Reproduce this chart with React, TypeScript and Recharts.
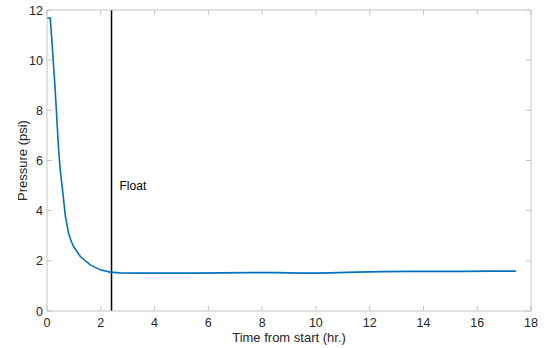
import React from 'react';
import { LineChart, Line, XAxis, YAxis, ReferenceLine, ReferenceDot, Label } from 'recharts';

const timeHr = [0, 0.12, 0.2, 0.3, 0.43, 0.49, 0.59, 0.68, 0.8, 0.9, 0.99, 1.24, 1.61, 1.98, 2.35, 2.7, 3.5, 4.5, 5.5, 6.5, 7.5, 8.5, 9.5, 10, 10.5, 11.5, 12.5, 13.5, 14.5, 15.5, 16.5, 17.44];
const pressurePsi = [11.68, 11.68, 10.5, 8.9, 6.45, 5.64, 4.71, 3.8, 3.1, 2.78, 2.57, 2.17, 1.84, 1.64, 1.55, 1.52, 1.51, 1.51, 1.51, 1.52, 1.53, 1.53, 1.51, 1.51, 1.52, 1.55, 1.57, 1.58, 1.58, 1.58, 1.59, 1.59];
const xTicks = [0, 2, 4, 6, 8, 10, 12, 14, 16, 18];
const yTicks = [0, 2, 4, 6, 8, 10, 12];
const floatTime = 2.4;
const floatLabelPressure = 5;
const floatLabel = 'Float';
const xTitle = 'Time from start (hr.)';
const yTitle = 'Pressure (psi)';

const data = timeHr.map((t, i) => ({ t, p: pressurePsi[i] }));

const AXIS = '#c4c4c4';
const TEXT = '#262626';
const FONT = '"Liberation Sans", Arial, Helvetica, sans-serif';

const BottomTick = (props: any) => {
  const { x, y, payload } = props;
  return (
    <g>
      <line x1={x} y1={y} x2={x} y2={y - 5} stroke={AXIS} />
      <text x={x} y={y + 16} textAnchor="middle" fontSize={12.5} fill={TEXT} fontFamily={FONT}>
        {payload.value}
      </text>
    </g>
  );
};

const LeftTick = (props: any) => {
  const { x, y, payload } = props;
  return (
    <g>
      <line x1={x} y1={y} x2={x + 5} y2={y} stroke={AXIS} />
      <text x={x - 4} y={y + 4.5} textAnchor="end" fontSize={12.5} fill={TEXT} fontFamily={FONT}>
        {payload.value}
      </text>
    </g>
  );
};

const TopTick = (props: any) => {
  const { x, y } = props;
  return <line x1={x} y1={y} x2={x} y2={y + 5} stroke={AXIS} />;
};

const RightTick = (props: any) => {
  const { x, y } = props;
  return <line x1={x} y1={y} x2={x - 5} y2={y} stroke={AXIS} />;
};

const YTitle = (props: any) => {
  const vb = props.viewBox || {};
  const cx = vb.x + 22;
  const cy = vb.y + vb.height / 2;
  return (
    <text
      x={cx}
      y={cy}
      transform={`rotate(-90, ${cx}, ${cy})`}
      textAnchor="middle"
      dominantBaseline="central"
      fontSize={13}
      fill={TEXT}
      fontFamily={FONT}
    >
      {yTitle}
    </text>
  );
};

export default function App() {
  return (
    <div style={{ position: 'absolute', left: 0, top: 0, width: 544, height: 348, background: '#fff' }}>
      <LineChart width={544} height={348} data={data} margin={{ top: 9, right: 12, bottom: 0, left: 0 }}>
        <XAxis
          dataKey="t"
          type="number"
          domain={[0, 18]}
          ticks={xTicks}
          height={37}
          tickSize={0}
          tickMargin={0}
          tickLine={false}
          axisLine={{ stroke: AXIS }}
          tick={<BottomTick />}
          interval={0}
        >
          <Label value={xTitle} position="insideBottom" offset={6} fontSize={13} fill={TEXT} fontFamily={FONT} />
        </XAxis>
        <XAxis
          xAxisId="top"
          dataKey="t"
          orientation="top"
          type="number"
          domain={[0, 18]}
          ticks={xTicks}
          height={1}
          tickSize={0}
          tickMargin={0}
          tickLine={false}
          axisLine={{ stroke: AXIS }}
          tick={<TopTick />}
          interval={0}
        />
        <YAxis
          type="number"
          domain={[0, 12]}
          ticks={yTicks}
          width={47}
          tickSize={0}
          tickMargin={0}
          tickLine={false}
          axisLine={{ stroke: AXIS }}
          tick={<LeftTick />}
          interval={0}
        >
          <Label content={<YTitle />} />
        </YAxis>
        <YAxis
          yAxisId="right"
          orientation="right"
          type="number"
          domain={[0, 12]}
          ticks={yTicks}
          width={1}
          tickSize={0}
          tickMargin={0}
          tickLine={false}
          axisLine={{ stroke: AXIS }}
          tick={<RightTick />}
          interval={0}
        />
        <ReferenceLine x={floatTime} stroke="#000" strokeWidth={1.5} />
        <ReferenceDot
          x={floatTime}
          y={floatLabelPressure}
          r={0}
          fill="none"
          stroke="none"
          label={{ value: floatLabel, position: 'right', offset: 8, fontSize: 12, fill: '#000', fontFamily: FONT }}
        />
        <Line
          xAxisId="top"
          yAxisId="right"
          type="linear"
          dataKey="p"
          stroke="none"
          strokeWidth={0}
          dot={false}
          activeDot={false}
          legendType="none"
          isAnimationActive={false}
        />
        <Line
          type="linear"
          dataKey="p"
          stroke="#0072BD"
          strokeWidth={1.6}
          dot={false}
          isAnimationActive={false}
        />
      </LineChart>
    </div>
  );
}
